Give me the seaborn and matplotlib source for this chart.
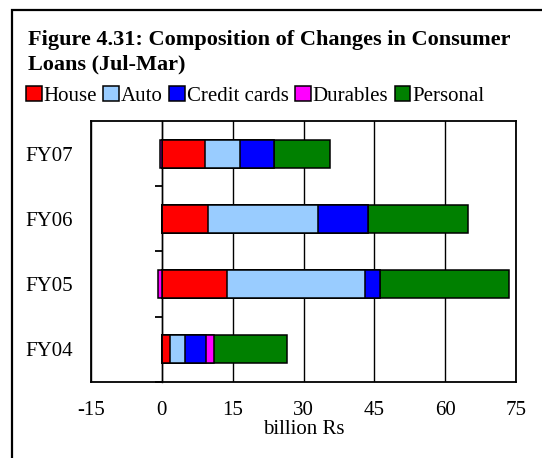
import matplotlib.pyplot as plt
import seaborn as sns
import pandas as pd
from matplotlib.patches import Patch, Rectangle

# values (billion Rs)
years = ['FY07', 'FY06', 'FY05', 'FY04']
house = [9.1, 9.8, 13.8, 1.8]
auto = [7.4, 23.3, 29.3, 3.2]
credit = [7.2, 10.5, 3.1, 4.4]
durables = [-0.4, 0.0, -0.9, 1.6]
personal = [11.9, 21.3, 27.4, 15.5]

names = ['House', 'Auto', 'Credit cards', 'Durables', 'Personal']
colors = ['#FF0000', '#99CCFF', '#0000FF', '#FF00FF', '#008000']

sns.set_theme(style='white')
plt.rcParams['font.family'] = ['Liberation Serif', 'DejaVu Serif']
plt.rcParams['axes.unicode_minus'] = False
plt.rcParams['text.color'] = 'black'
plt.rcParams['axes.labelcolor'] = 'black'
plt.rcParams['xtick.color'] = 'black'
plt.rcParams['ytick.color'] = 'black'

df = pd.DataFrame({'year': years, 'House': house, 'Auto': auto,
                   'Credit cards': credit, 'Durables': durables,
                   'Personal': personal})
pos = df[names].clip(lower=0).cumsum(axis=1)
neg = df['Durables'].clip(upper=0)

W, H = 542, 458
fig = plt.figure(figsize=(W / 100, H / 100), dpi=100)
ax = fig.add_axes([91 / W, (H - 381.7) / H, (516 - 91) / W, (381.7 - 121) / H])

# stacked bars: draw cumulative totals from longest to shortest
for name, color in reversed(list(zip(names, colors))):
    sns.barplot(x=pos[name].values, y=df['year'], order=years, orient='h',
                color=color, saturation=1, width=0.43, errorbar=None,
                edgecolor='black', linewidth=1.1, ax=ax)
sns.barplot(x=neg.values, y=df['year'], order=years, orient='h',
            color=colors[3], saturation=1, width=0.43, errorbar=None,
            edgecolor='black', linewidth=1.1, ax=ax)

ax.set_xlim(-15, 75)
ax.set_xticks(range(-15, 76, 15))
ax.set_axisbelow(True)
ax.grid(axis='x', color='black', linewidth=1.0)
ax.grid(axis='y', visible=False)
for sp in ax.spines.values():
    sp.set_color('black')
    sp.set_linewidth(1.3)
ax.tick_params(axis='x', length=0, pad=14, labelsize=15)
ax.tick_params(axis='y', length=0, pad=13, labelsize=15)
ax.set_ylabel('')
ax.set_xlabel('billion Rs', fontsize=15, labelpad=0)

# category axis crossing at x = 0
sec = ax.secondary_yaxis(1 / 6)
sec.set_yticks([])
sec.set_yticks([0.5, 1.5, 2.5, 3.5], minor=True)
sec.tick_params(which='minor', length=5, width=1.3, direction='out', color='black')
sec.spines['left'].set_color('black')
sec.spines['left'].set_linewidth(1.0)

fig.text(28 / W, 1 - 30 / H,
         'Figure 4.31: Composition of Changes in Consumer\nLoans (Jul-Mar)',
         fontweight='bold', fontsize=16, ha='left', va='top', linespacing=1.3)

handles = [Patch(facecolor=c, edgecolor='black', linewidth=1.1) for c in colors]
fig.legend(handles, names, loc='center left', bbox_to_anchor=(26 / W, 1 - 96 / H),
           ncol=5, frameon=False, fontsize=15, handlelength=0.75, handleheight=0.75,
           handletextpad=0.1, columnspacing=0.3, borderpad=0, borderaxespad=0)

fig.add_artist(Rectangle((12 / W, -0.1), 1.2, 1.1 - 10 / H, transform=fig.transFigure,
                         fill=False, edgecolor='black', linewidth=1.6))

fig.savefig('out.png', dpi=100)
